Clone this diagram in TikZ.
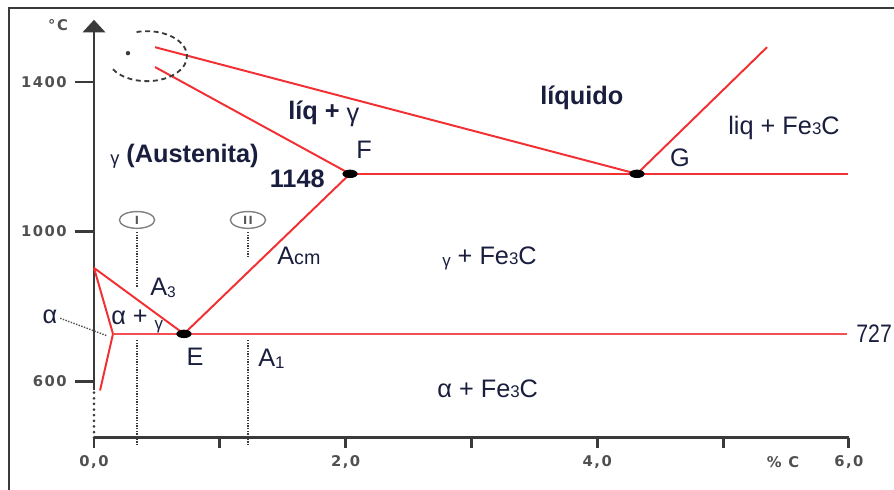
\documentclass[tikz,border=0pt]{standalone}
\usepackage{fontspec}
\setmainfont{Liberation Sans}
\newfontfamily\tickfamily[LetterSpace=10]{DejaVu Sans}
\usepackage{tikz}
\usetikzlibrary{
    arrows.meta,
    positioning,
    shapes.geometric
}

\definecolor{phasered}{RGB}{242,48,52}
\definecolor{inkblue}{RGB}{26,30,62}
\definecolor{axisgray}{RGB}{58,58,58}
\definecolor{tickgray}{RGB}{80,80,80}

\newcommand{\phasefont}{\fontsize{18}{21}\selectfont}
\newcommand{\smalltext}[2]{{\fontsize{#1}{#1}\selectfont #2}}

\begin{document}
\begin{tikzpicture}[
    x=3.145cm,
    y=0.009375cm,
    phaseline/.style={
        phasered,
        line width=1.4pt,
        line join=round
    },
    eutdot/.style={
        ellipse,
        fill=black,
        minimum width=0.38cm,
        minimum height=0.21cm,
        inner sep=0pt
    },
    axisline/.style={
        axisgray,
        line width=2.1pt
    },
    guide/.style={
        axisgray,
        line width=1.7pt,
        dash pattern=on 1pt off 0.9pt
    },
    alloy/.style={
        ellipse,
        draw=gray,
        line width=1pt,
        minimum width=0.88cm,
        minimum height=0.42cm,
        inner sep=0pt,
        text=axisgray!85,
        font=\tickfamily\bfseries\fontsize{8}{8}\selectfont
    },
    ticklabel/.style={
        text=tickgray,
        inner sep=0pt,
        font=\tickfamily\bfseries\fontsize{10.5}{10.5}\selectfont
    },
    phasetext/.style={
        text=inkblue,
        inner sep=0pt,
        font=\phasefont
    }
]

\useasboundingbox (-0.7472,311.2) rectangle (6.359,1617.9);

% ============================================================
% FRAME AND AXES
% ============================================================

\draw[axisgray, line width=1.5pt]
    (-0.676,311.2) |- (6.359,1596.5);

\coordinate (origin) at (0,450);
\coordinate (ysolid) at (0,578);
\coordinate (ytip) at (0,1565);
\coordinate (xend) at (6,450);

\draw[axisline, -{Triangle[width=16pt,length=9pt]}]
    (ysolid) -- (ytip);

\draw[axisline, line cap=round, dash pattern=on 0pt off 4pt]
    (origin) -- (ysolid);

\draw[axisline]
    (origin) -- (xend);

\foreach \c in {0,...,6}
    \draw[axisline] (\c,450) -- (\c,423);

\foreach \t in {600,1000,1400}
    \draw[axisline, line width=1.6pt] (0,\t) -- (-0.151,\t);

% Tick labels
\foreach \t in {600,1000,1400}
    \node[ticklabel, anchor=east] (ylab\t) at (-0.215,\t) {\t};

\foreach \c in {0,2,4,6}
    \node[ticklabel] (xlab\c) at (\c,386) {\c{,}0};

\node[ticklabel] (xlabC) at (5.477,386) {\% C};
\node[ticklabel] (ylabC) at (-0.286,1551) {°C};

% ============================================================
% PHASE BOUNDARIES
% ============================================================

\coordinate (liqtop) at (0.485,1492);
\coordinate (soltop) at (0.485,1439);
\coordinate (F) at (2.035,1154);
\coordinate (G) at (4.316,1154);
\coordinate (cemtop) at (5.35,1492);
\coordinate (eutR) at (5.99,1154);
\coordinate (E) at (0.715,727);
\coordinate (P) at (0.151,727);
\coordinate (eodR) at (5.985,727);
\coordinate (A3top) at (0,903);
\coordinate (alphabot) at (0.048,576);

% Liquidus and solidus
\draw[phaseline] (liqtop) -- (G) -- (cemtop);
\draw[phaseline] (soltop) -- (F);

% Eutectic line
\draw[phaseline] (F) -- (eutR);

% Acm and A3
\draw[phaseline] (E) -- (F);
\draw[phaseline] (A3top) -- (E);

% Ferrite boundary
\draw[phaseline] (A3top) -- (P) -- (alphabot);

% Eutectoid line
\draw[phaseline, phasered!85, line width=1.9pt] (P) -- (eodR);

% Dashed zoom mark near the top
\coordinate (liqzoom) at (0.421,1468);

\draw[axisgray, line width=1.3pt, dash pattern=on 3.5pt off 2.6pt]
    (liqzoom) ++(105:1cm and 0.625cm)
    arc[start angle=105, end angle=-150,
        x radius=1cm, y radius=0.625cm];

\node[circle, fill=axisgray, inner sep=1.1pt]
    (zoomdot) at (0.27,1476) {};

% Invariant points
\node[eutdot] (dotF) at (F) {};
\node[eutdot] (dotG) at (G) {};
\node[eutdot] (dotE) at (E) {};

% ============================================================
% ALLOYS I AND II
% ============================================================

\node[alloy] (alloyI) at (0.342,1031) {I};
\node[alloy] (alloyII) at (1.224,1031) {II};

\coordinate (Ilow) at (0.342,850);
\coordinate (Imid) at (0.342,711);
\coordinate (Ibot) at (0.342,429);
\coordinate (IIlow) at (1.224,930);
\coordinate (IImid) at (1.224,711);
\coordinate (IIbot) at (1.224,429);

\draw[guide] ([yshift=-2pt]alloyI.south) -- (Ilow);
\draw[guide] (Imid) -- (Ibot);
\draw[guide] ([yshift=-2pt]alloyII.south) -- (IIlow);
\draw[guide] (IImid) -- (IIbot);

% ============================================================
% LABELS
% ============================================================

\node[phasetext, anchor=base west]
    (lblAust) at (0.127,1183)
    {\raisebox{-1pt}{\smalltext{13}{γ}} \textbf{(Austenita)}};

\node[phasetext, anchor=base west]
    (lblLiqGam) at (1.542,1298)
    {\textbf{líq +} \raisebox{-1pt}{γ}};

\node[phasetext, anchor=base]
    (lblF) at (2.146,1194) {F};

\node[phasetext, anchor=base east]
    (lbl1148) at (1.836,1116.5) {\textbf{1148}};

\node[phasetext, anchor=base west]
    (lblLiq) at (3.545,1338) {\textbf{líquido}};

\node[phasetext, anchor=base]
    (lblG) at (4.658,1172.5) {G};

\node[phasetext, anchor=base west]
    (lblLiqCem) at (5.040,1258)
    {liq + Fe\smalltext{12}{3}C};

\node[phasetext, anchor=base west]
    (lblAcm) at (1.455,911) {A\smalltext{14}{cm}};

\node[phasetext, anchor=base west]
    (lblGamCem) at (2.766,911)
    {\raisebox{-1.2pt}{\smalltext{12}{γ}} + Fe\smalltext{12}{3}C};

\node[phasetext, anchor=base west]
    (lblAlpCem) at (2.727,556.5)
    {α + Fe\smalltext{12}{3}C};

\node[phasetext, anchor=base west]
    (lbl727) at (6.058,703) {\scalebox{0.84}[1]{727}};

\node[phasetext, anchor=base west]
    (lblA1) at (1.304,639)
    {A\raisebox{-1.5pt}{\smalltext{12}{1}}};

\node[phasetext, anchor=base]
    (lblE) at (0.803,642) {E};

\node[phasetext, anchor=base west]
    (lblA3) at (0.445,828.5)
    {A\raisebox{-1.5pt}{\smalltext{11}{3}}};

\node[phasetext, anchor=base west]
    (lblAlpGam) at (0.135,751)
    {α + \raisebox{-3pt}{\smalltext{12}{γ}}};

\node[phasetext, anchor=base]
    (lblAlpha) at (-0.350,753.5) {α};

% Pointer to the ferrite field
\coordinate (alphapt) at (0.103,722);

\draw[tickgray, line width=1pt, dash pattern=on 1pt off 1pt,
      shorten <=2pt]
    (lblAlpha.east) -- (alphapt);

\end{tikzpicture}
\end{document}
